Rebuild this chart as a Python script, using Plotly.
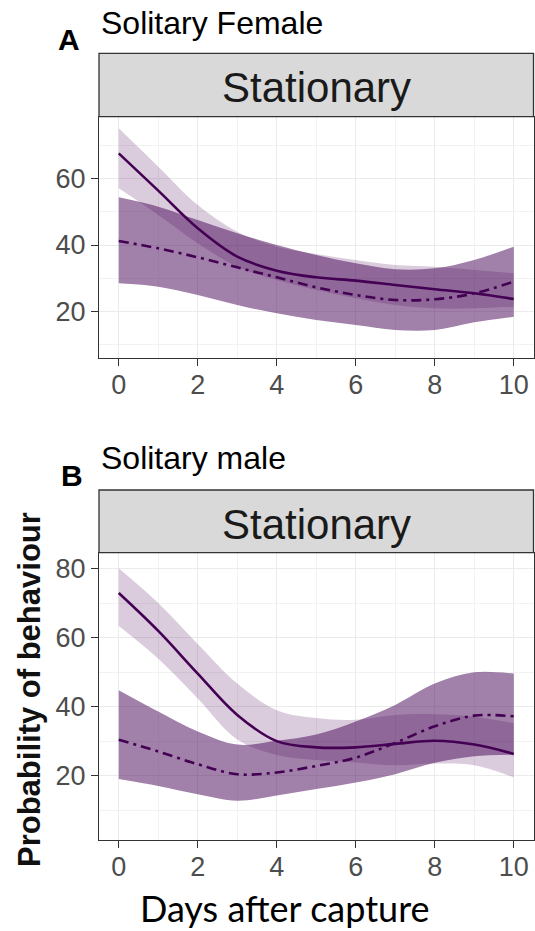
import plotly.graph_objects as go

# ---------------- data ----------------
days = [0, 1, 2, 3, 4, 5, 6, 7, 8, 9, 10]

# Panel A - Solitary Female (Stationary)
fem_solid_mean  = [67.5, 56.3, 45.0, 36.5, 32.3, 30.3, 29.3, 28.0, 26.7, 25.5, 23.8]
fem_solid_upper = [75.0, 63.5, 52.0, 44.0, 39.5, 37.3, 35.5, 34.0, 33.5, 32.5, 31.5]
fem_solid_lower = [57.0, 49.0, 40.5, 33.5, 29.5, 26.5, 24.0, 22.0, 21.0, 21.0, 21.5]
fem_dash_mean   = [41.2, 39.0, 36.3, 33.3, 30.3, 27.3, 25.0, 23.5, 23.7, 25.5, 29.0]
fem_dash_upper  = [54.3, 51.5, 47.5, 43.5, 40.0, 37.0, 34.5, 32.7, 33.0, 35.5, 39.5]
fem_dash_lower  = [28.5, 27.5, 25.0, 22.0, 19.5, 17.5, 16.0, 14.5, 14.5, 16.8, 18.5]

# Panel B - Solitary male (Stationary)
mal_solid_mean  = [73.0, 62.0, 49.6, 37.6, 30.0, 28.2, 28.2, 29.2, 30.1, 29.0, 26.3]
mal_solid_upper = [80.2, 70.1, 58.2, 46.7, 39.0, 36.7, 36.2, 37.6, 37.8, 37.1, 35.2]
mal_solid_lower = [63.4, 53.9, 42.4, 30.5, 26.0, 24.5, 23.8, 23.0, 23.5, 23.0, 19.5]
mal_dash_mean   = [30.4, 27.0, 23.3, 20.4, 20.9, 22.8, 25.2, 29.5, 34.3, 37.4, 37.2]
mal_dash_upper  = [44.8, 38.6, 32.8, 29.0, 30.1, 31.9, 35.7, 40.5, 46.7, 50.0, 49.6]
mal_dash_lower  = [19.0, 17.0, 14.6, 12.7, 14.2, 16.1, 18.0, 20.4, 23.7, 25.6, 26.1]

x_ticks = [0, 2, 4, 6, 8, 10]
yA_ticks = [20, 40, 60]
yB_ticks = [20, 40, 60, 80]

panel_titles = ["Solitary Female", "Solitary male"]
panel_letters = ["A", "B"]
strip_label = "Stationary"
x_title = "Days after capture"
y_title = "Probability of behaviour"

# ---------------- styling ----------------
W, H = 535, 931
BASE = "#440154"
LIGHT = "rgba(68,1,84,0.2)"
MED = "rgba(68,1,84,0.5)"
FONT = "Liberation Sans"


def px_x(p):
    return p / W


def px_y(p):
    return 1 - p / H


fig = go.Figure()


def add_panel(xa, ya, s_mean, s_up, s_lo, d_mean, d_up, d_lo):
    common = dict(x=days, xaxis=xa, yaxis=ya, hoverinfo="skip",
                  showlegend=False, mode="lines")
    # ribbon for solid line
    fig.add_trace(go.Scatter(y=s_lo, line=dict(width=0, shape="spline", color=BASE), **common))
    fig.add_trace(go.Scatter(y=s_up, line=dict(width=0, shape="spline", color=BASE),
                             fill="tonexty", fillcolor=LIGHT, **common))
    # ribbon for dashed line
    fig.add_trace(go.Scatter(y=d_lo, line=dict(width=0, shape="spline", color=BASE), **common))
    fig.add_trace(go.Scatter(y=d_up, line=dict(width=0, shape="spline", color=BASE),
                             fill="tonexty", fillcolor=MED, **common))
    # lines
    fig.add_trace(go.Scatter(y=s_mean, line=dict(width=2.6, shape="spline", color=BASE), **common))
    fig.add_trace(go.Scatter(y=d_mean, line=dict(width=2.6, shape="spline", color=BASE,
                                                 dash="10px,5px,3px,5px"), **common))


add_panel("x", "y", fem_solid_mean, fem_solid_upper, fem_solid_lower,
          fem_dash_mean, fem_dash_upper, fem_dash_lower)
add_panel("x2", "y2", mal_solid_mean, mal_solid_upper, mal_solid_lower,
          mal_dash_mean, mal_dash_upper, mal_dash_lower)

panel_left, panel_right = 99, 533.5
A_top, A_bot = 116.7, 358.3
B_top, B_bot = 552.7, 840
A_strip_top = 53.3
B_strip_top = 490

axis_common = dict(
    showline=True, mirror=True, linecolor="#333333", linewidth=1.3,
    ticks="outside", ticklen=7, tickcolor="#333333", tickwidth=1.2,
    tickfont=dict(family=FONT, size=27, color="#4d4d4d"),
    showgrid=True, gridcolor="#ebebeb", gridwidth=1.3, zeroline=False,
    automargin=False,
)
xminor = dict(dtick=1, tick0=0, showgrid=True, gridcolor="#f2f2f2", gridwidth=1)
yminor = dict(dtick=10, tick0=0, showgrid=True, gridcolor="#f2f2f2", gridwidth=1)

fig.update_layout(
    width=W, height=H, margin=dict(l=0, r=0, t=0, b=0, autoexpand=False),
    paper_bgcolor="white", plot_bgcolor="white",
    xaxis=dict(domain=[px_x(panel_left), px_x(panel_right)], range=[-0.5, 10.5],
               tickvals=x_ticks, anchor="y", minor=xminor, ticklabelstandoff=-5, **axis_common),
    yaxis=dict(domain=[px_y(A_bot), px_y(A_top)], range=[6.0, 78.5],
               tickvals=yA_ticks, anchor="x", minor=yminor, **axis_common),
    xaxis2=dict(domain=[px_x(panel_left), px_x(panel_right)], range=[-0.5, 10.5],
                tickvals=x_ticks, anchor="y2", minor=xminor, ticklabelstandoff=-5, **axis_common),
    yaxis2=dict(domain=[px_y(B_bot), px_y(B_top)], range=[1.3, 84.7],
                tickvals=yB_ticks, anchor="x2", minor=yminor, **axis_common),
)

# strips
for top, bot in [(A_strip_top, A_top), (B_strip_top, B_top)]:
    fig.add_shape(type="rect", xref="paper", yref="paper",
                  x0=px_x(panel_left), x1=px_x(panel_right), y0=px_y(bot), y1=px_y(top),
                  fillcolor="#d9d9d9", line=dict(color="#333333", width=1.3), layer="above")

ann = []
# strip labels
for yc in [87.5, 524]:
    ann.append(dict(text=strip_label, x=px_x((panel_left + panel_right) / 2), y=px_y(yc),
                    xanchor="center", yanchor="middle",
                    font=dict(family=FONT, size=42, color="#1a1a1a")))
# titles
for t, yc in zip(panel_titles, [23, 457.5]):
    ann.append(dict(text=t, x=px_x(99.3), y=px_y(yc), xanchor="left", yanchor="middle",
                    font=dict(family=FONT, size=32, color="#000000")))
# letters
for t, xc, yc in zip(panel_letters, [69, 71.7], [39.7, 475]):
    ann.append(dict(text="<b>%s</b>" % t, x=px_x(xc), y=px_y(yc), xanchor="center",
                    yanchor="middle", font=dict(family=FONT, size=30, color="#000000")))
# y title
ann.append(dict(text="<b>%s</b>" % y_title, x=px_x(29), y=px_y(690), textangle=-90,
                xanchor="center", yanchor="middle",
                font=dict(family=FONT, size=31, color="#111111")))
# x title
ann.append(dict(text=x_title, x=px_x(285), y=px_y(907.5), xanchor="center", yanchor="middle",
                font=dict(family="Lato", size=36, color="#000000")))

for a in ann:
    a.update(xref="paper", yref="paper", showarrow=False)
fig.update_layout(annotations=ann)

fig.write_html("out.html", config={"displayModeBar": False},
               post_script="document.body.style.margin='0';")
